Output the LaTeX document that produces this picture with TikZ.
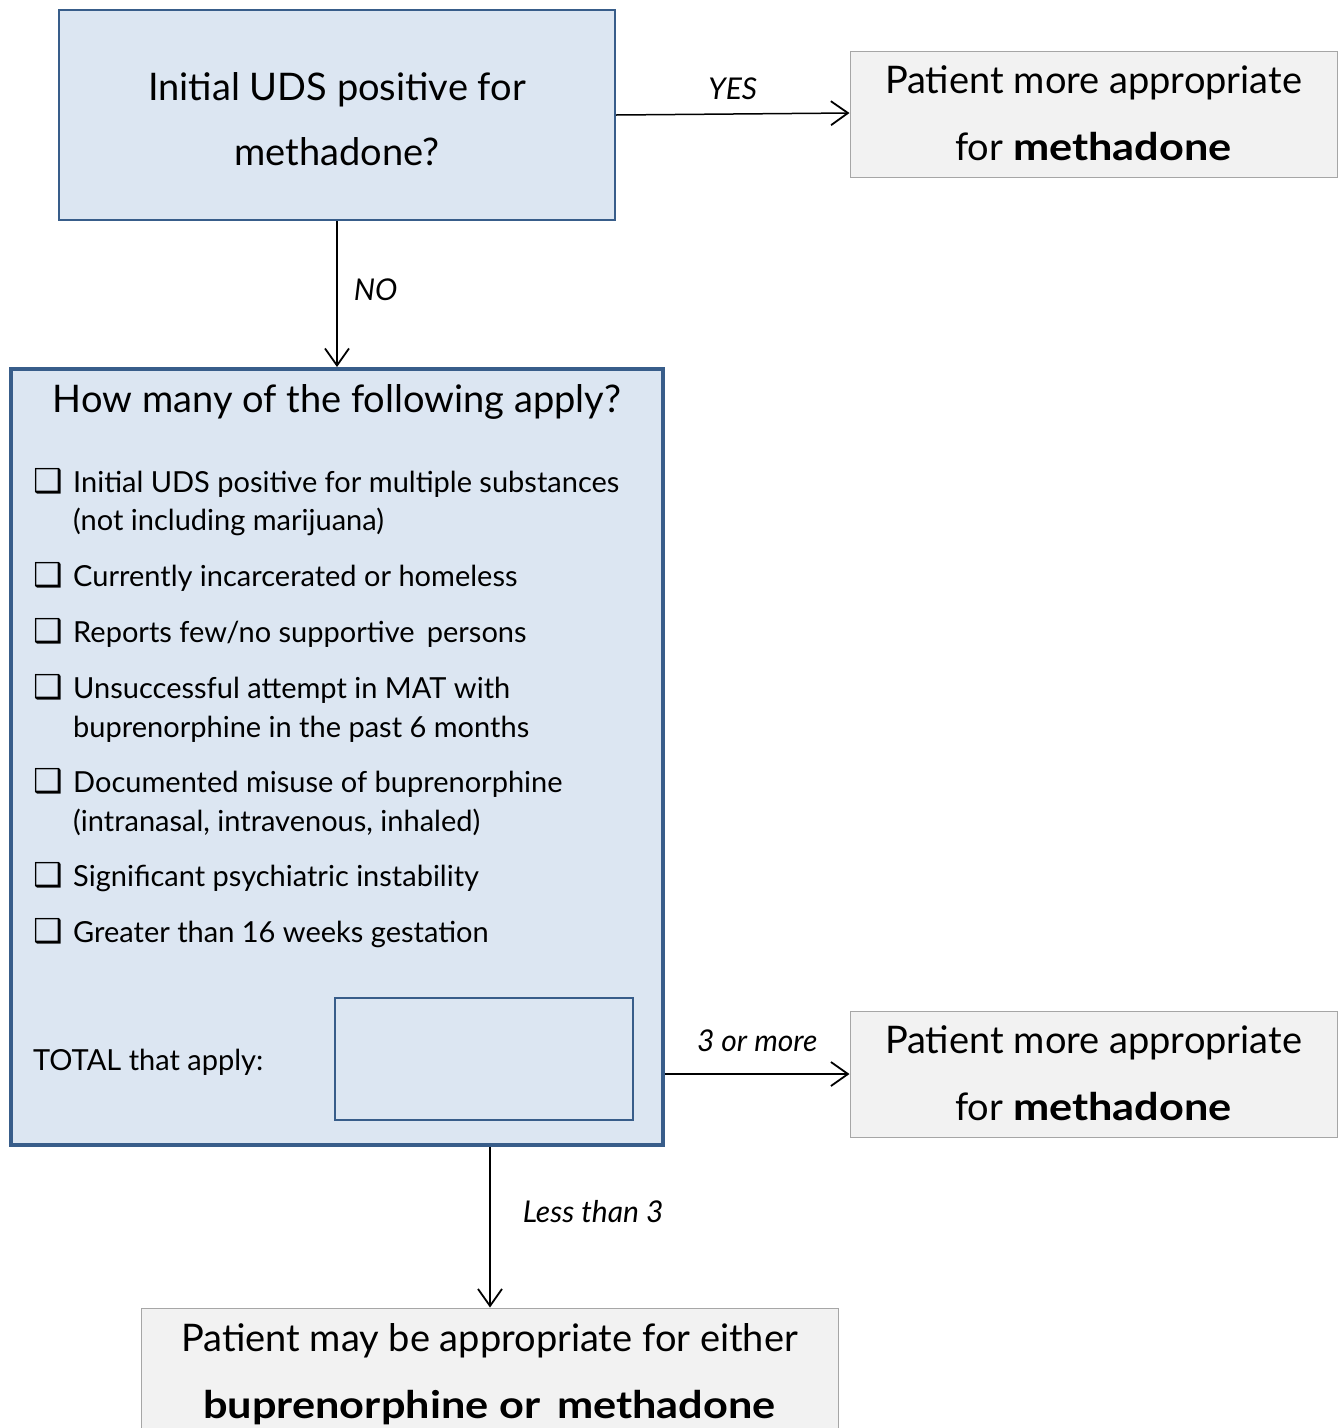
\documentclass[tikz,border=0pt]{standalone}
\usepackage{fontspec}
\setmainfont{Lato}
\newfontfamily\symfont{DejaVu Sans}
\usetikzlibrary{arrows.meta}
\definecolor{bluefill}{HTML}{DCE6F2}
\definecolor{blueline}{HTML}{385D8A}
\definecolor{grayfill}{HTML}{F2F2F2}
\definecolor{grayline}{HTML}{A6A6A6}
\newcommand{\wb}[1]{\textbf{\addfontfeature{FakeStretch=1.14}#1}}
\tikzset{
 bluebox/.style={draw=blueline, fill=bluefill, line width=2pt, inner sep=0pt},
 graybox/.style={draw=grayline, fill=grayfill, line width=1pt, inner sep=0pt},
 conn/.style={line width=1.5pt, -{Straight Barb[length=17pt,width=24pt,line width=1.8pt]}},
 lbl/.style={font=\fontsize{30}{36}\selectfont\itshape, inner sep=0pt},
 bigtxt/.style={anchor=base, inner sep=0pt, font=\fontsize{38}{40}\selectfont},
 item/.style={anchor=base west, inner sep=0pt, font=\fontsize{29}{38}\selectfont},
 chk/.style={anchor=base west, inner sep=0pt, font=\symfont\bfseries\fontsize{33}{33}\selectfont},
}
\begin{document}
\begin{tikzpicture}[x=1pt,y=-1pt]
\useasboundingbox (0,0) rectangle (1338,1428);
% boxes
\node[bluebox, minimum width=556pt, minimum height=210pt] (q1) at (337,115) {};
\node[bigtxt] at (337,100) {Initial UDS positive for};
\node[bigtxt] at (337,165) {methadone?};

\node[graybox, minimum width=487pt, minimum height=126pt] (r1) at (1093.5,114) {};
\node[bigtxt] at (1093.5,93) {Patient more appropriate};
\node[bigtxt] at (1093.5,160) {for \wb{methadone}};

\node[bluebox, line width=4pt, minimum width=652pt, minimum height=776pt] (q2) at (337,757) {};
\node[bigtxt] at (337,412) {How many of the following apply?};

\foreach \y in {492,586,642,698,792,886,942}
  \node[chk] at (33,\y) {❑};
\node[item] at (73,492) {Initial UDS positive for multiple substances};
\node[item] at (73,530) {(not including marijuana)};
\node[item] at (73,586) {Currently incarcerated or homeless};
\node[item] at (73,642) {Reports few/no supportive\, persons};
\node[item] at (73,698) {Unsuccessful attempt in MAT with};
\node[item] at (73,737) {buprenorphine in the past 6 months};
\node[item] at (73,792) {Documented misuse of buprenorphine};
\node[item] at (73,831) {(intranasal, intravenous, inhaled)};
\node[item] at (73,886) {Significant psychiatric instability};
\node[item] at (73,942) {Greater than 16 weeks gestation};
\node[item] at (33,1070) {TOTAL that apply:};
\node[bluebox, minimum width=298pt, minimum height=122pt] (tot) at (484,1059) {};

\node[graybox, minimum width=487pt, minimum height=126pt] (r2) at (1093.5,1074) {};
\node[bigtxt] at (1093.5,1053) {Patient more appropriate};
\node[bigtxt] at (1093.5,1120) {for \wb{methadone}};

\node[graybox, minimum width=697pt, minimum height=140pt] (r3) at (489.5,1378) {};
\node[bigtxt] at (489.5,1351) {Patient may be appropriate for either};
\node[bigtxt] at (489.5,1418) {\wb{buprenorphine or\, methadone}};

% connectors
\draw[conn] (q1.east |- 0,115) -- (r1.west |- 0,113) node[lbl, midway, above=14pt] {YES};
\draw[conn] (q1.south) -- (q2.north) node[lbl, midway, right=16pt, yshift=4pt] {NO};
\draw[conn] (q2.east |- 0,1074) -- (r2.west |- 0,1074) node[lbl, midway, above=22pt] {3 or more};
\draw[conn] (q2.south -| 490,0) -- (r3.north -| 490,0) node[lbl, midway, right=32pt, yshift=16pt] {Less than 3};
\end{tikzpicture}
\end{document}
